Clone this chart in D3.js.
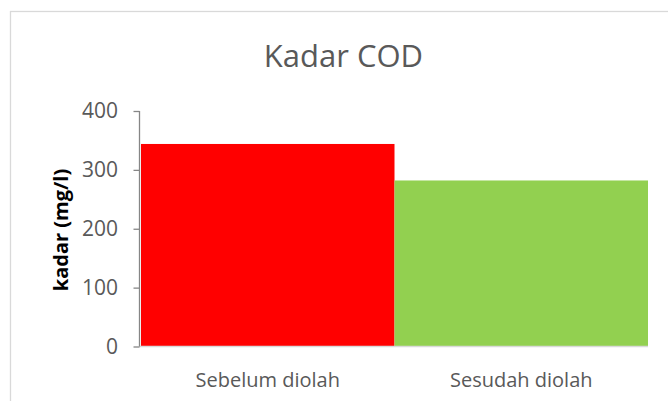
<!DOCTYPE html>
<html>
<head>
<meta charset="utf-8">
<script src="https://cdn.jsdelivr.net/npm/d3@7"></script>
<style>
  html, body { margin: 0; padding: 0; background: #fff; }
  svg { display: block; }
  text { font-family: "Open Sans", "Noto Sans", sans-serif; }
</style>
</head>
<body>
<svg id="chart" width="668" height="401"></svg>
<script>
const categories = ["Sebelum diolah", "Sesudah diolah"];
const values = [344, 282];
const barColors = ["#ff0000", "#92d050"];
const yTicks = [0, 100, 200, 300, 400];
const titleText = "Kadar COD";
const yLabelText = "kadar  (mg/l)";

const svg = d3.select("#chart");
const W = 668, H = 401;

svg.append("rect").attr("width", W).attr("height", H).attr("fill", "#fff");
svg.append("rect")
  .attr("x", 10.5).attr("y", 11.5)
  .attr("width", 700).attr("height", 500)
  .attr("fill", "none").attr("stroke", "#d9d9d9").attr("stroke-width", 1.3);

const plot = { left: 141, right: 648, top: 111, bottom: 346.5 };

const x = d3.scaleBand().domain(categories).range([plot.left, plot.right]).padding(0);
const y = d3.scaleLinear().domain([0, 400]).range([plot.bottom, plot.top]);

// bars
svg.append("g").selectAll("rect").data(categories).join("rect")
  .attr("x", d => x(d))
  .attr("width", x.bandwidth())
  .attr("y", (d, i) => y(values[i]))
  .attr("height", (d, i) => y(0) - y(values[i]))
  .attr("fill", (d, i) => barColors[i]);

// bottom axis (category)
const xAxis = svg.append("g")
  .attr("transform", `translate(0,${plot.bottom})`)
  .call(d3.axisBottom(x).tickSize(0).tickPadding(26));
xAxis.select(".domain").attr("stroke", "#d9d9d9").attr("stroke-width", 1.3)
  .attr("d", `M${plot.left - 2},0H${plot.right}`);
xAxis.selectAll("text").attr("fill", "#595959").attr("font-size", 20)
  .attr("font-family", "'Open Sans', sans-serif");

// left axis
const yAxis = svg.append("g")
  .attr("transform", `translate(139.5,0)`)
  .call(d3.axisLeft(y).tickValues(yTicks).tickSize(6).tickPadding(15.5));
yAxis.select(".domain").attr("stroke", "#868686").attr("stroke-width", 1.3)
  .attr("d", `M0,${plot.top}V${plot.bottom}`);
yAxis.selectAll(".tick line").attr("stroke", "#868686").attr("stroke-width", 1.3);
yAxis.selectAll("text").attr("fill", "#595959").attr("font-size", 21)
  .attr("font-family", "'Open Sans', sans-serif");

// title
svg.append("text")
  .attr("x", 343.5).attr("y", 67)
  .attr("text-anchor", "middle")
  .attr("fill", "#595959")
  .attr("font-size", 31)
  .text(titleText);

// y label
svg.append("text")
  .attr("transform", `translate(68,230) rotate(-90)`)
  .attr("text-anchor", "middle")
  .attr("fill", "#000")
  .attr("font-weight", "bold")
  .attr("font-size", 20)
  .text(yLabelText);
</script>
</body>
</html>
